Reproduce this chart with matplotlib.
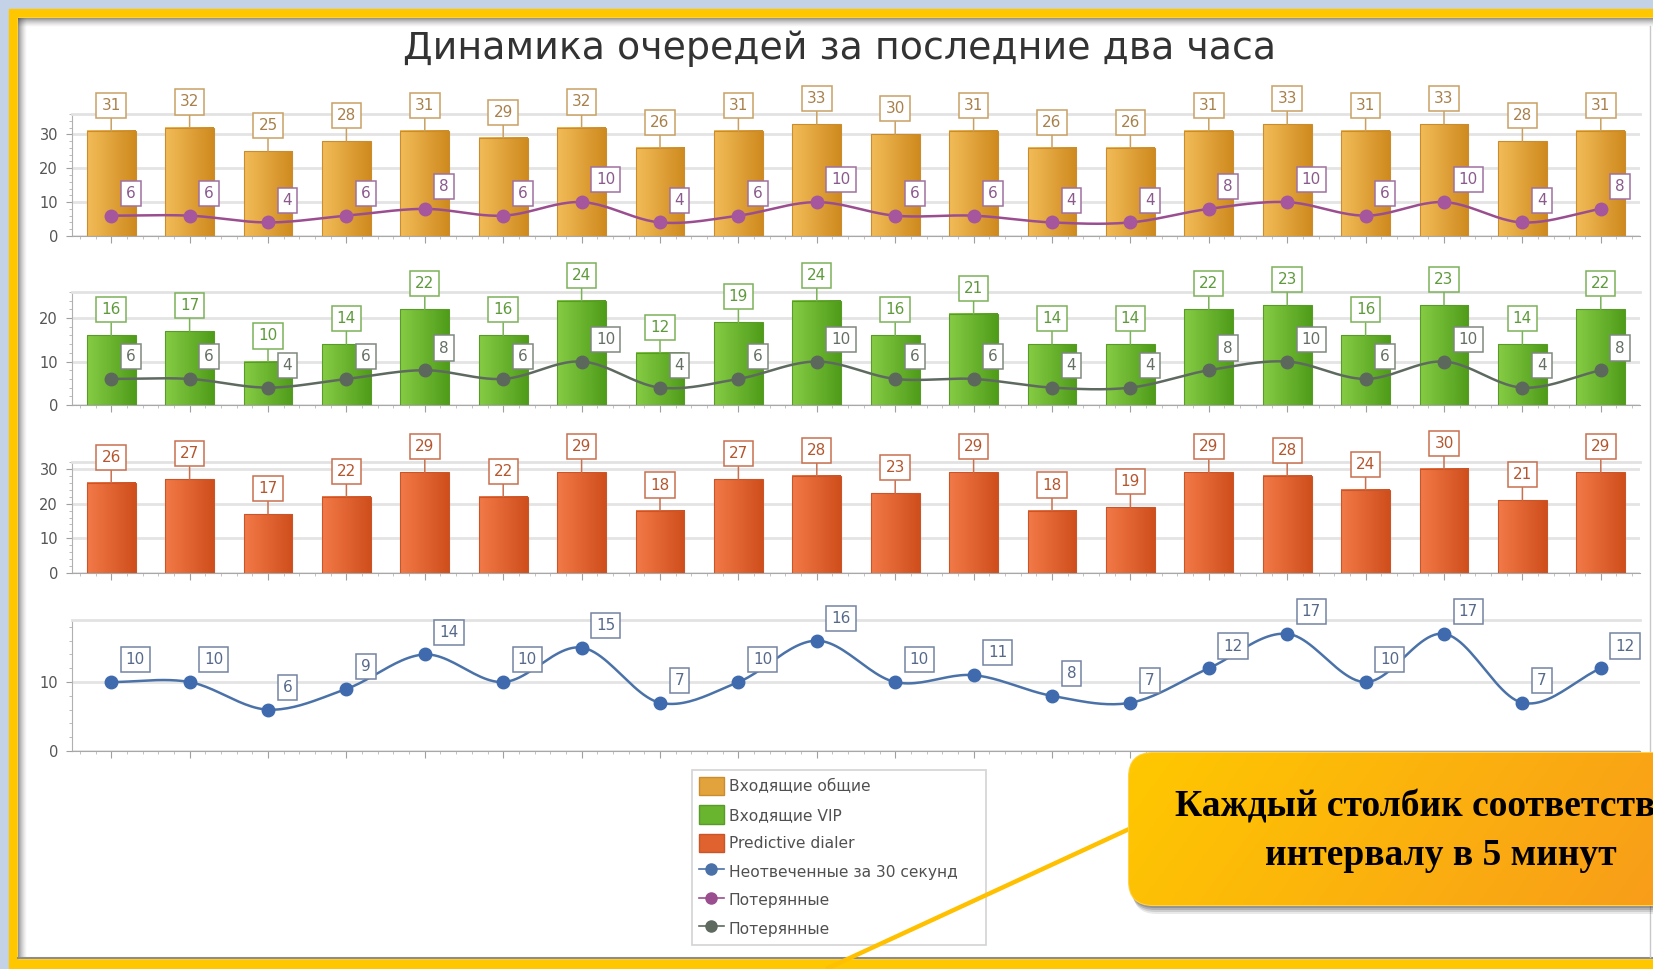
import numpy as np
import matplotlib
matplotlib.use("Agg")
import matplotlib.pyplot as plt
from matplotlib.colors import LinearSegmentedColormap
from matplotlib.patches import Patch, Rectangle, FancyBboxPatch
from matplotlib.lines import Line2D
from matplotlib.ticker import MultipleLocator

# ---------------- data ----------------
intervals = list(range(20))
incoming_total = [31, 32, 25, 28, 31, 29, 32, 26, 31, 33, 30, 31, 26, 26, 31, 33, 31, 33, 28, 31]
lost_total     = [6, 6, 4, 6, 8, 6, 10, 4, 6, 10, 6, 6, 4, 4, 8, 10, 6, 10, 4, 8]
incoming_vip   = [16, 17, 10, 14, 22, 16, 24, 12, 19, 24, 16, 21, 14, 14, 22, 23, 16, 23, 14, 22]
lost_vip       = [6, 6, 4, 6, 8, 6, 10, 4, 6, 10, 6, 6, 4, 4, 8, 10, 6, 10, 4, 8]
predictive     = [26, 27, 17, 22, 29, 22, 29, 18, 27, 28, 23, 29, 18, 19, 29, 28, 24, 30, 21, 29]
unanswered_30s = [10, 10, 6, 9, 14, 10, 15, 7, 10, 16, 10, 11, 8, 7, 12, 17, 10, 17, 7, 12]

title = "Динамика очередей за последние два часа"
legend_labels = ["Входящие общие", "Входящие VIP", "Predictive dialer",
                 "Неотвеченные за 30 секунд", "Потерянные", "Потерянные"]
callout_lines = ["Каждый столбик соответствует", "интервалу в 5 минут"]

W_PX, H_PX = 1653, 969
fig = plt.figure(figsize=(W_PX / 100, H_PX / 100), dpi=100)

def fx(px):
    return px / W_PX

def fy(py):
    return 1 - py / H_PX

# ---------------- background / frame ----------------
bg = fig.add_axes([0, 0, 1, 1], zorder=-10)
bg.set_xlim(0, W_PX)
bg.set_ylim(H_PX, 0)
bg.axis("off")
bg.add_patch(Rectangle((0, 0), W_PX, H_PX, color="#C4D2E8"))
bg.add_patch(Rectangle((9, 9), W_PX, H_PX, color="#FFC700"))
bg.add_patch(Rectangle((18, 18), W_PX, 940, color="white"))
for k in range(9):
    a = 0.55 * (1 - k / 9) ** 1.5
    bg.add_patch(Rectangle((18, 18 + k), W_PX, 1, color="#404040", alpha=a, lw=0))
    bg.add_patch(Rectangle((18 + k, 18), 1, 940, color="#404040", alpha=a, lw=0))
bg.plot([18, W_PX], [957.5, 957.5], color="#8C8C8C", lw=1.5)
bg.plot([1650, 1650], [26, 957], color="#C8C8C8", lw=1)

# ---------------- helpers ----------------
def smooth(xs, ys, n=24):
    xs = np.asarray(xs, float)
    ys = np.asarray(ys, float)
    m = np.zeros_like(ys)
    m[1:-1] = (ys[2:] - ys[:-2]) / 2
    m[0] = ys[1] - ys[0]
    m[-1] = ys[-1] - ys[-2]
    ox, oy = [], []
    t = np.linspace(0, 1, n, endpoint=False)
    for i in range(len(xs) - 1):
        h00 = 2 * t**3 - 3 * t**2 + 1
        h10 = t**3 - 2 * t**2 + t
        h01 = -2 * t**3 + 3 * t**2
        h11 = t**3 - t**2
        oy.append(h00 * ys[i] + h10 * m[i] + h01 * ys[i + 1] + h11 * m[i + 1])
        ox.append(xs[i] + t * (xs[i + 1] - xs[i]))
    ox.append([xs[-1]])
    oy.append([ys[-1]])
    return np.concatenate(ox), np.concatenate(oy)

LABEL_FS = 11

def grad_bars(ax, xs, hs, c1, c2, edge, lab_txt, lab_edge):
    bars = ax.bar(xs, hs, width=0.62, color="none", edgecolor=edge, lw=0.8, zorder=3)
    cmap = LinearSegmentedColormap.from_list("g", [c1, c2])
    grad = np.linspace(0, 1, 64).reshape(1, -1)
    for b in bars:
        ax.imshow(grad, extent=[b.get_x(), b.get_x() + b.get_width(), 0, b.get_height()],
                  cmap=cmap, aspect="auto", zorder=2.5, interpolation="bilinear")
    for x, h in zip(xs, hs):
        ax.annotate(str(h), xy=(x, h), xytext=(0, 13), textcoords="offset points",
                    ha="center", va="bottom", fontsize=LABEL_FS, color=lab_txt,
                    bbox=dict(boxstyle="square,pad=0.33", fc="white", ec=lab_edge, lw=1.1),
                    arrowprops=dict(arrowstyle="-", color=lab_edge, lw=1.1,
                                    shrinkA=0, shrinkB=0), zorder=6)

def spline_line(ax, xs, ys, color, mcolor, lab_txt, lab_edge):
    sx, sy = smooth(xs, ys)
    ax.plot(sx, sy, color=color, lw=1.8, zorder=4)
    ax.plot(xs, ys, "o", color=mcolor, ms=9, zorder=5)
    for x, v in zip(xs, ys):
        ax.annotate(str(v), xy=(x, v), xytext=(10.5, 16), textcoords="offset points",
                    ha="left", va="center", fontsize=LABEL_FS, color=lab_txt,
                    bbox=dict(boxstyle="square,pad=0.33", fc="white", ec=lab_edge, lw=1.1),
                    zorder=6)

def style_axis(ax, ymax, yticks, yminor):
    ax.set_xlim(-0.5, 19.5)
    ax.set_ylim(0, ymax)
    ax.set_yticks(yticks)
    ax.yaxis.set_minor_locator(MultipleLocator(yminor))
    ax.set_xticks(intervals)
    ax.xaxis.set_minor_locator(MultipleLocator(0.2))
    ax.set_xticklabels([])
    ax.spines["right"].set_visible(False)
    ax.spines["top"].set_color("#E2E2E2")
    ax.spines["top"].set_linewidth(2)
    ax.spines["left"].set_color("#B0B0B0")
    ax.spines["bottom"].set_color("#A8A8A8")
    ax.tick_params(axis="y", which="major", length=4, color="#A0A0A0",
                   labelsize=10.5, labelcolor="#555555", pad=6)
    ax.tick_params(axis="y", which="minor", length=2, color="#B0B0B0")
    ax.tick_params(axis="x", which="major", length=5, color="#A0A0A0")
    ax.tick_params(axis="x", which="minor", length=2, color="#B8B8B8")
    ax.yaxis.grid(True, color="#E4E4E4", lw=2)
    ax.set_axisbelow(True)

LEFT, RIGHT = 72, 1640
def panel(top, bot):
    return fig.add_axes([fx(LEFT), fy(bot), fx(RIGHT - LEFT), (bot - top) / H_PX])

# ---------------- panel 1 ----------------
ax1 = panel(114, 236)
grad_bars(ax1, intervals, incoming_total, "#F2BC58", "#CF8A1E", "#C98C2E", "#A8804A", "#C9A064")
spline_line(ax1, intervals, lost_total, "#9A4E90", "#A5569D", "#8A5A8C", "#A070A0")
style_axis(ax1, 36, [0, 10, 20, 30], 2)

# ---------------- panel 2 ----------------
ax2 = panel(292, 405)
grad_bars(ax2, intervals, incoming_vip, "#86CC44", "#4F9C1A", "#5A9A28", "#5E9A3C", "#7AB258")
spline_line(ax2, intervals, lost_vip, "#5E6A60", "#5C685C", "#657065", "#7E897E")
style_axis(ax2, 26, [0, 10, 20], 2)

# ---------------- panel 3 ----------------
ax3 = panel(462, 573)
grad_bars(ax3, intervals, predictive, "#F27A48", "#CF4E1C", "#C8562A", "#B4562E", "#C87050")
style_axis(ax3, 32, [0, 10, 20, 30], 2)

# ---------------- panel 4 ----------------
ax4 = panel(620, 751)
spline_line(ax4, intervals, unanswered_30s, "#4A72A8", "#3F6BAE", "#56698A", "#7484A2")
style_axis(ax4, 19, [0, 10], 2)

# ---------------- title ----------------
fig.text(fx(840), fy(49), title, ha="center", va="center", fontsize=27.3, color="#333333")

# ---------------- legend ----------------
handles = [
    Patch(facecolor="#E3A33C", edgecolor="#C98C2E"),
    Patch(facecolor="#6AB530", edgecolor="#5A9A28"),
    Patch(facecolor="#E0622E", edgecolor="#C8562A"),
    Line2D([], [], color="#4A72A8", marker="o", ms=8, lw=1.2),
    Line2D([], [], color="#9A4E90", marker="o", ms=8, lw=1.2),
    Line2D([], [], color="#5E6A60", marker="o", ms=8, lw=1.2),
]
leg = fig.legend(handles, legend_labels, loc="upper left",
                 bbox_to_anchor=(fx(692), fy(941), fx(986 - 692), (941 - 770) / H_PX),
                 mode="expand", borderaxespad=0,
                 fontsize=11.2, frameon=True, fancybox=False, edgecolor="#C8C8C8",
                 handlelength=1.6, handleheight=1.45, handletextpad=0.3,
                 labelspacing=0.64, borderpad=0.45, labelcolor="#505050")
leg.get_frame().set_linewidth(1.2)

# ---------------- callout ----------------
ov = fig.add_axes([0, 0, 1, 1], zorder=20)
ov.set_xlim(0, W_PX)
ov.set_ylim(H_PX, 0)
ov.axis("off")
ov.patch.set_alpha(0)
ov.plot([1140, 826], [824, 969], color="#FFC000", lw=3.2, solid_capstyle="butt", zorder=1)
bx0, by0, bx1, by1 = 1129, 753, 1760, 905
for k, a in [(9, 0.10), (7, 0.14), (5, 0.18), (3, 0.22)]:
    ov.add_patch(FancyBboxPatch((bx0 + k * 0.4, by0 + k), bx1 - bx0, by1 - by0,
                                boxstyle="round,pad=0,rounding_size=24",
                                fc="#303030", ec="none", alpha=a, zorder=2))
box = FancyBboxPatch((bx0, by0), bx1 - bx0, by1 - by0,
                     boxstyle="round,pad=0,rounding_size=24",
                     fc="#FFC000", ec="#FFD24A", lw=1.5, zorder=3)
ov.add_patch(box)
gx, gy = np.meshgrid(np.linspace(0, 1, 200), np.linspace(0, 1, 60))
g = np.clip(gx * 0.85 + gy * 0.15, 0, 1)
cmap_c = LinearSegmentedColormap.from_list("c", ["#FFC800", "#F7961E"])
im = ov.imshow(g, extent=(bx0, bx1, by1, by0), cmap=cmap_c, aspect="auto",
               zorder=3.5, interpolation="bilinear")
im.set_clip_path(box)
ov.set_xlim(0, W_PX)
ov.set_ylim(H_PX, 0)
ov.text(1441, 816, callout_lines[0], ha="center", va="baseline", fontsize=27,
        family="Liberation Serif", weight="bold", color="black", zorder=5)
ov.text(1441, 865, callout_lines[1], ha="center", va="baseline", fontsize=27,
        family="Liberation Serif", weight="bold", color="black", zorder=5)

fig.savefig("out.png", dpi=100)
